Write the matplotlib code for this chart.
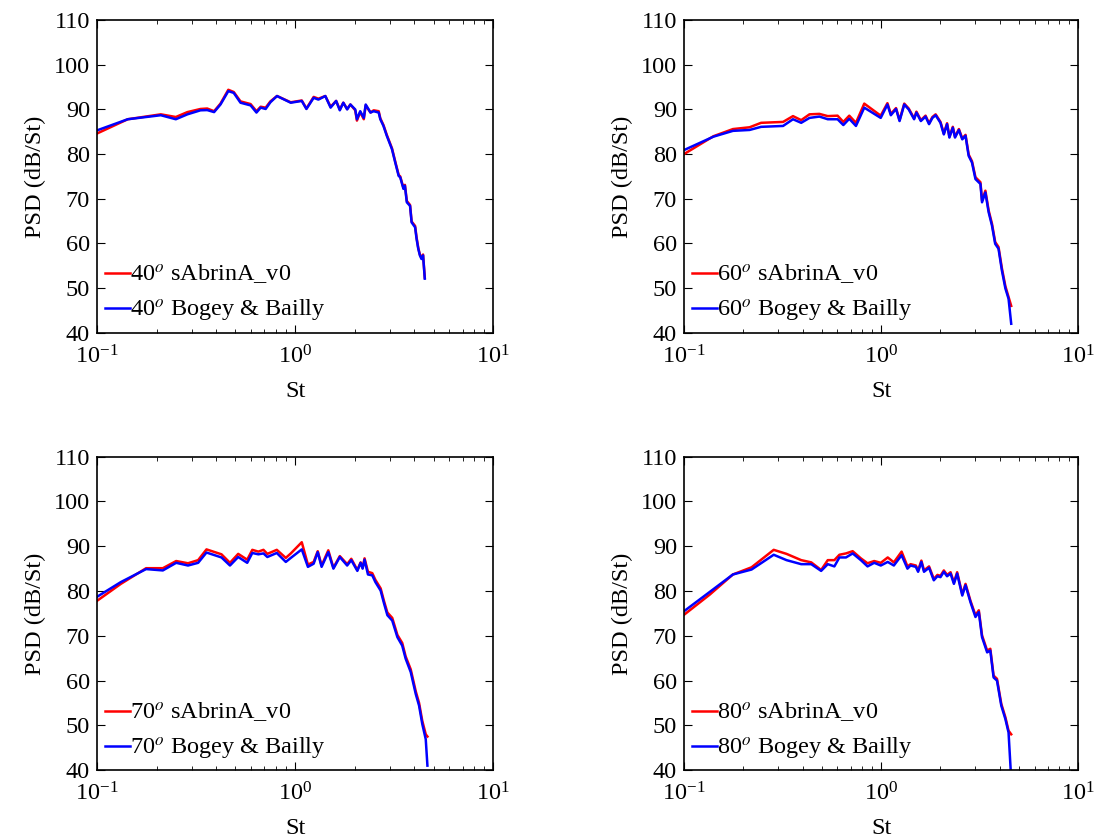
import numpy as np
import matplotlib
matplotlib.use('Agg')
import matplotlib.pyplot as plt

plt.rcParams['font.family'] = ['Liberation Serif', 'DejaVu Serif']
plt.rcParams['mathtext.fontset'] = 'stix'

# ---------------- 40 deg ----------------
st_40 = [0.1, 0.143, 0.21, 0.25, 0.286, 0.333, 0.36, 0.39, 0.42, 0.46, 0.49, 0.53, 0.596, 0.638,
         0.67, 0.71, 0.75, 0.81, 0.95, 1.08, 1.14, 1.24, 1.31, 1.42, 1.51, 1.61, 1.68, 1.75, 1.83,
         1.90, 2.01, 2.05, 2.13, 2.22, 2.27, 2.40, 2.49, 2.64, 2.69, 2.79, 2.90, 3.08, 3.20, 3.33,
         3.39, 3.52, 3.58, 3.66, 3.80, 3.87, 4.03, 4.10, 4.18, 4.26, 4.34, 4.42, 4.51]
bb_40 = [85.3, 87.8, 88.7, 87.8, 88.9, 89.8, 89.85, 89.4, 91.1, 94.1, 93.7, 91.5, 90.9, 89.3,
         90.4, 90.1, 91.6, 93.0, 91.5, 91.9, 90.1, 92.6, 92.2, 93.0, 90.4, 91.9, 89.8, 91.5, 90.0,
         91.1, 90.0, 87.8, 89.6, 88.1, 91.1, 89.3, 89.6, 89.3, 87.8, 86.3, 84.1, 81.1, 78.1, 75.1,
         74.8, 72.2, 72.9, 69.2, 68.4, 64.7, 63.6, 61.0, 58.8, 57.3, 56.5, 57.3, 52.1]
sab_40 = [84.6, 87.8, 88.9, 88.3, 89.4, 90.1, 90.2, 89.6, 91.3, 94.4, 93.9, 91.8, 91.2, 89.6,
          90.6, 90.4, 91.8, 93.0, 91.6, 92.0, 90.2, 92.8, 92.4, 93.0, 90.6, 91.9, 90.0, 91.5, 90.1,
          91.1, 89.8, 87.5, 89.4, 87.8, 90.9, 89.3, 89.8, 89.6, 88.0, 86.5, 84.3, 81.3, 78.3, 75.3,
          75.0, 72.4, 73.1, 69.5, 68.6, 64.9, 63.9, 61.3, 59.0, 57.5, 56.8, 57.5, 52.3]

# ---------------- 60 deg ----------------
st_60 = [0.1, 0.141, 0.177, 0.215, 0.246, 0.318, 0.357, 0.393, 0.433, 0.486, 0.536, 0.601, 0.643,
         0.689, 0.745, 0.821, 0.995, 1.076, 1.12, 1.19, 1.24, 1.31, 1.38, 1.47, 1.51, 1.59, 1.68,
         1.75, 1.82, 1.89, 2.00, 2.08, 2.16, 2.22, 2.31, 2.37, 2.48, 2.58, 2.68, 2.78, 2.89, 3.01,
         3.19, 3.25, 3.38, 3.51, 3.65, 3.79, 3.94, 4.10, 4.27, 4.43, 4.57]
bb_60 = [80.9, 83.9, 85.2, 85.4, 86.1, 86.3, 87.8, 87.0, 88.1, 88.4, 87.8, 87.8, 86.5,
         87.9, 86.3, 90.4, 88.1, 91.1, 88.7, 90.1, 87.4, 91.1, 90.0, 87.8, 89.3, 87.4, 88.4,
         86.7, 88.1, 88.7, 87.0, 84.4, 86.7, 83.7, 85.9, 83.7, 85.4, 83.3, 84.1, 79.6, 78.1, 74.4,
         73.3, 69.2, 71.4, 67.0, 64.0, 59.9, 58.8, 53.9, 49.9, 47.6, 42.0]
sab_60 = [80.0, 84.0, 85.6, 86.0, 87.0, 87.2, 88.5, 87.6, 88.9, 89.0, 88.5, 88.6, 87.2,
          88.6, 87.0, 91.3, 88.6, 91.4, 89.0, 90.3, 87.6, 91.3, 90.2, 88.0, 89.5, 87.6, 88.6,
          86.9, 88.3, 88.9, 87.2, 84.6, 86.9, 83.9, 86.1, 83.9, 85.6, 83.5, 84.3, 79.9, 78.4, 74.8,
          73.7, 69.6, 71.8, 67.4, 64.4, 60.3, 59.2, 54.4, 50.4, 48.0, 46.0]

# ---------------- 70 deg ----------------
st_70 = [0.1, 0.132, 0.177, 0.215, 0.251, 0.288, 0.324, 0.357, 0.425, 0.469, 0.516, 0.573, 0.608,
         0.652, 0.692, 0.724, 0.808, 0.897, 0.951, 1.08, 1.16, 1.24, 1.30, 1.36, 1.47, 1.56, 1.68,
         1.83, 1.92, 2.06, 2.14, 2.19, 2.24, 2.33, 2.45, 2.54, 2.70, 2.81, 2.92, 3.09, 3.28, 3.47,
         3.61, 3.83, 4.06, 4.22, 4.38, 4.56, 4.65]
bb_70 = [78.7, 82.0, 84.9, 84.6, 86.3, 85.7, 86.3, 88.6, 87.5, 85.7, 87.6, 86.3, 88.5,
         88.2, 88.4, 87.6, 88.5, 86.5, 87.4, 89.3, 85.4, 86.1, 88.7, 85.4, 88.7, 85.0, 87.6,
         85.7, 86.9, 84.5, 86.3, 85.0, 87.0, 83.7, 83.5, 82.0, 80.1, 77.2, 74.6, 73.4, 69.7, 67.8,
         64.9, 61.9, 57.0, 54.4, 50.3, 46.9, 41.0]
sab_70 = [77.8, 81.6, 85.1, 85.1, 86.7, 86.2, 86.9, 89.3, 88.2, 86.3, 88.3, 87.0, 89.2,
          88.8, 89.2, 88.3, 89.2, 87.4, 88.4, 90.9, 85.9, 86.5, 88.9, 85.7, 89.1, 85.2, 87.8,
          86.0, 87.2, 84.7, 86.4, 85.2, 87.3, 84.3, 84.0, 82.5, 80.6, 77.7, 75.2, 74.0, 70.2, 68.4,
          65.4, 62.5, 57.6, 55.0, 51.0, 48.0, 47.5]

# ---------------- 80 deg ----------------
st_80 = [0.1, 0.135, 0.177, 0.220, 0.285, 0.331, 0.393, 0.442, 0.496, 0.536, 0.579, 0.614, 0.663,
         0.717, 0.789, 0.853, 0.922, 0.996, 1.08, 1.16, 1.27, 1.36, 1.41, 1.50, 1.54, 1.60, 1.65,
         1.75, 1.85, 1.93, 2.00, 2.08, 2.16, 2.25, 2.34, 2.43, 2.58, 2.68, 2.84, 3.01, 3.13, 3.25,
         3.45, 3.58, 3.72, 3.87, 4.07, 4.27, 4.43, 4.57]
bb_80 = [75.5, 79.8, 83.7, 84.8, 88.1, 86.9, 86.0, 86.0, 84.5, 86.0, 85.5, 87.5, 87.5,
         88.4, 86.9, 85.5, 86.3, 85.7, 86.5, 85.7, 88.0, 85.0, 85.7, 85.4, 84.3, 86.5, 84.3,
         85.2, 82.4, 83.3, 83.1, 84.3, 83.3, 83.9, 81.6, 83.9, 79.0, 81.3, 77.5, 74.2, 75.3, 69.7,
         66.3, 66.7, 60.7, 60.0, 54.4, 51.4, 48.4, 38.0]
sab_80 = [74.7, 79.2, 83.7, 85.3, 89.2, 88.3, 86.9, 86.4, 84.7, 86.9, 86.9, 88.1, 88.4,
          88.9, 87.3, 86.2, 86.7, 86.3, 87.5, 86.4, 88.8, 85.5, 86.0, 85.7, 84.6, 86.8, 84.6,
          85.5, 82.7, 83.6, 83.4, 84.6, 83.6, 84.2, 81.9, 84.2, 79.3, 81.6, 77.8, 74.6, 75.7, 70.1,
          66.7, 67.1, 61.1, 60.4, 54.8, 51.8, 48.8, 48.0]

angles = [40, 60, 70, 80]
st_all = [st_40, st_60, st_70, st_80]
sab_all = [sab_40, sab_60, sab_70, sab_80]
bb_all = [bb_40, bb_60, bb_70, bb_80]

# axes positions (left, bottom, width, height)
pos = [[0.0883, 0.603, 0.361, 0.373],
       [0.623, 0.603, 0.359, 0.373],
       [0.0883, 0.081, 0.361, 0.374],
       [0.623, 0.081, 0.359, 0.374]]

fs = 17.5
fig = plt.figure(figsize=(10.98, 8.38), dpi=100)

for i in range(4):
    ax = fig.add_axes(pos[i])
    a = angles[i]
    ax.semilogx(st_all[i], sab_all[i], color='r', lw=1.8, label=r'%d$^{o}$ sAbrinA_v0' % a)
    ax.semilogx(st_all[i], bb_all[i], color='b', lw=1.8, label=r'%d$^{o}$ Bogey & Bailly' % a)
    ax.set_xlim(0.1, 10)
    ax.set_ylim(40, 110)
    ax.set_yticks(np.arange(40, 111, 10))
    ax.tick_params(which='both', direction='in', top=True, right=True, labelsize=fs)
    ax.tick_params(which='major', length=6)
    ax.tick_params(axis='y', pad=5)
    ax.tick_params(axis='x', pad=9)
    ax.tick_params(which='minor', length=3)
    for s in ax.spines.values():
        s.set_linewidth(1.2)
    ax.set_xlabel('St', fontsize=fs, labelpad=9)
    ax.set_ylabel('PSD (dB/St)', fontsize=fs, labelpad=6)
    ax.legend(loc='lower left', frameon=False, fontsize=fs, handlelength=1.05,
              handletextpad=0.0, borderaxespad=0.0, borderpad=0.0, labelspacing=0.45,
              bbox_to_anchor=(0.02, 0.027))

plt.savefig('out.png', dpi=100)
